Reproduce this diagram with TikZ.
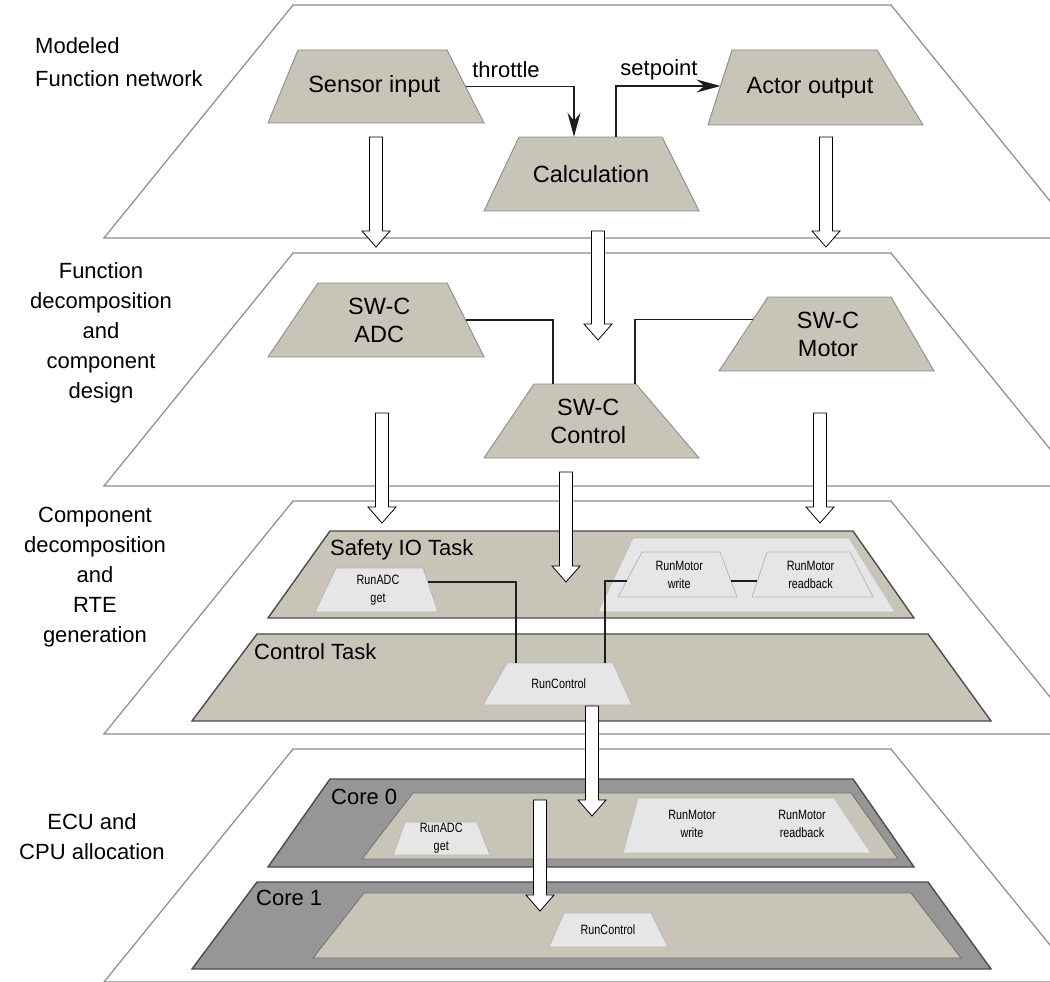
\documentclass[tikz,border=0pt]{standalone}
\usepackage{fontspec}
\setmainfont{Liberation Sans}
\newfontfamily\narrowfont[FakeStretch=0.8]{Liberation Sans}
\usetikzlibrary{calc,arrows.meta}
\definecolor{beige}{RGB}{200,196,183}
\definecolor{panelgray}{RGB}{230,230,230}
\definecolor{coregray}{RGB}{150,150,150}
\definecolor{ink}{RGB}{30,30,30}

\newcommand\trapnode[9]{%
  \coordinate (#1-tl) at (#2,#6);
  \coordinate (#1-tr) at (#3,#6);
  \coordinate (#1-bl) at (#4,#7);
  \coordinate (#1-br) at (#5,#7);
  \coordinate (#1-e) at ($(#1-tr)!0.5!(#1-br)$);
  \coordinate (#1-w) at ($(#1-tl)!0.5!(#1-bl)$);
  \path[#8 poly] (#1-tl) -- (#1-tr) -- (#1-br) -- (#1-bl) -- cycle;
  \node[#8 text, minimum width={#5-#4}, minimum height={#7-#6}] (#1) at ({(#2+#3+#4+#5)/4},{(#6+#7)/2}) {#9};
}
\newcommand\hollowarrow[3]{%
  \path[hollow] ({#1-6.5},#2) -- ({#1+6.5},#2) -- ({#1+6.5},{#3-16}) -- ({#1+14},{#3-16})
    -- (#1,#3) -- ({#1-14},{#3-16}) -- ({#1-6.5},{#3-16}) -- cycle;
}
\newcommand\planeshape[1]{%
  \path[plane] (293,{5+#1}) -- (891,{5+#1}) -- (1080,{238+#1}) -- (104,{238+#1}) -- cycle;
}

\tikzset{
  plane/.style={fill=white, draw=black!45, line width=1.2pt},
  big poly/.style={fill=beige, draw=black!45, line width=0.9pt},
  big text/.style={inner sep=0pt, align=center, font=\fontsize{23.5}{28}\selectfont},
  small poly/.style={fill=panelgray, draw=black!28, line width=0.8pt},
  small text/.style={inner sep=0pt, align=center, font=\narrowfont\fontsize{13.5}{18}\selectfont},
  task/.style={fill=beige, draw=black!70, line width=1.4pt},
  core/.style={fill=coregray, draw=black!70, line width=1.4pt},
  inner/.style={fill=beige, draw=black!55, line width=0.8pt},
  panel/.style={fill=panelgray, draw=black!25, line width=0.8pt},
  conn/.style={draw=ink, line width=1.4pt},
  tip/.style={-{Stealth[length=24pt,width=13pt,inset=8pt]}},
  hollow/.style={fill=white, draw=black, line width=0.8pt},
  lbl/.style={inner sep=0pt, font=\fontsize{22}{30}\selectfont},
  sidelbl/.style={inner sep=0pt, align=center, font=\fontsize{22}{30}\selectfont},
}

\begin{document}
\begin{tikzpicture}[x=1pt,y=-1pt]
\useasboundingbox (0,0) rectangle (1050,982);
\clip (0,0) rectangle (1050,982);

% ---------------- Layer 1 ----------------
\planeshape{0}
\node[sidelbl, align=left, anchor=west, font=\fontsize{22}{33}\selectfont] (l1) at (35,62) {Modeled\\Function network};
\trapnode{sensor}{298}{447}{268}{484}{50}{123}{big}{Sensor input}
\trapnode{calc}{519}{662}{484}{699}{137}{211}{big}{Calculation}
\trapnode{actor}{732}{877}{708}{923}{50}{125}{big}{Actor output}
\draw[conn,tip] (sensor-e) -| ($(calc.north)+(-17,0)$);
\draw[conn,tip] ($(calc.north)+(25,0)$) |- ($(actor-tl)!0.48!(actor-bl)$);
\node[lbl] (thr) at (506,70) {throttle};
\node[lbl] (setp) at (659,70) {setpoint};

% ---------------- Layer 2 ----------------
\planeshape{248}
\node[sidelbl] (l2) at (101,333) {Function\\decomposition\\and\\component\\design};
\trapnode{adc}{318}{447}{268}{484}{283}{357}{big}{SW-C\\ADC}
\trapnode{motor}{768}{891}{719}{934}{297}{371}{big}{SW-C\\Motor}
\trapnode{control}{534}{636}{484}{699}{384}{458}{big}{SW-C\\Control}
\draw[conn, line width=1.1pt] (adc-e) -| ($(control-tl)+(19,0)$);
\draw[conn, line width=1.1pt] ($(motor-tl)!0.3!(motor-bl)$) -| ($(control-tr)+(-1,0)$);

% ---------------- Layer 3 ----------------
\planeshape{496}
\node[sidelbl] (l3) at (95,577) {Component\\decomposition\\and\\RTE\\generation};
\path[task] (330,531) -- (853,531) -- (914,618) -- (268,618) -- cycle;
\node[lbl, anchor=west] (safety) at (330,550) {Safety IO Task};
\path[panel] (633,538) -- (849,538) -- (895,612) -- (598,612) -- cycle;
\path[task] (257,634) -- (928,634) -- (991,721) -- (192,721) -- cycle;
\node[lbl, anchor=west] (ctask) at (254,652) {Control Task};
\trapnode{runadc}{336}{423}{315}{438}{568}{612}{small}{RunADC\\get}
\trapnode{runmw}{642}{720}{618}{737}{552}{597}{small}{RunMotor\\write}
\trapnode{runmr}{767}{850}{752}{873}{552}{597}{small}{RunMotor\\readback}
\trapnode{runctl}{507}{613}{483}{632}{663}{705}{small}{RunControl}
\draw[conn] ($(runadc-tr)!0.32!(runadc-br)$) -| ($(runctl-tl)+(9,0)$);
\draw[conn] ($(runmw-tl)!0.64!(runmw-bl)$) -| ($(runctl-tr)+(-8,0)$);
\draw[conn] ($(runmw-tr)!0.64!(runmw-br)$) -- ($(runmr-tl)!0.64!(runmr-bl)$);

% ---------------- Layer 4 ----------------
\planeshape{744}
\node[sidelbl] (l4) at (92,837) {ECU and\\CPU allocation};
\path[core] (330,779) -- (853,779) -- (914,867) -- (268,867) -- cycle;
\node[lbl, anchor=west] (core0) at (331,797) {Core 0};
\path[inner] (413,793) -- (851,793) -- (898,859) -- (362,859) -- cycle;
\path[panel] (638,798) -- (834,798) -- (871,853) -- (623,853) -- cycle;
\node[small text] (mw4) at (692,824) {RunMotor\\write};
\node[small text] (mr4) at (802,824) {RunMotor\\readback};
\trapnode{runadcb}{405}{477}{393}{490}{822}{855}{small}{RunADC\\get}
\path[core] (257,882) -- (928,882) -- (991,969) -- (192,969) -- cycle;
\node[lbl, anchor=west] (core1) at (256,898) {Core 1};
\path[inner] (364,893) -- (911,893) -- (961,958) -- (313,958) -- cycle;
\trapnode{runctlb}{564}{651}{549}{668}{913}{947}{small}{RunControl}

% ---------------- hollow arrows between layers ----------------
\hollowarrow{376}{137}{247}
\hollowarrow{826}{137}{247}
\hollowarrow{598}{231}{340}
\hollowarrow{382}{413}{523}
\hollowarrow{820}{413}{523}
\hollowarrow{566}{472}{582}
\hollowarrow{592}{706}{816}
\hollowarrow{540}{800}{911}
\end{tikzpicture}
\end{document}
